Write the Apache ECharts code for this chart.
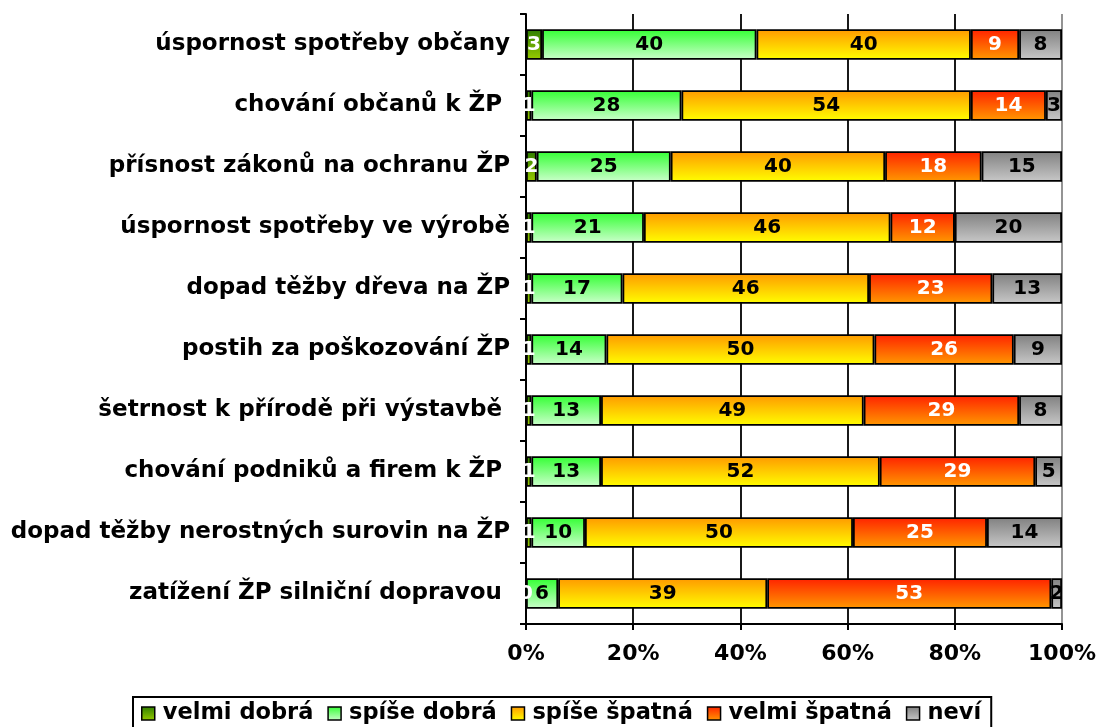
<!DOCTYPE html>
<html>
<head>
<meta charset="utf-8">
<script src="https://cdn.jsdelivr.net/npm/echarts@6/dist/echarts.min.js"></script>
<style>
  html, body { margin: 0; padding: 0; background: #fff; }
  #chart { width: 1101px; height: 727px; }
</style>
</head>
<body>
<div id="chart"></div>
<script>
// kategorie odshora dolů
const categories = [
  'úspornost spotřeby občany',
  'chování občanů k ŽP ',
  'přísnost zákonů na ochranu ŽP',
  'úspornost spotřeby ve výrobě',
  'dopad těžby dřeva na ŽP',
  'postih za poškozování ŽP',
  'šetrnost k přírodě při výstavbě ',
  'chování podniků a firem k ŽP ',
  'dopad těžby nerostných surovin na ŽP',
  'zatížení ŽP silniční dopravou '
]

const velmiDobra = [3, 1, 2, 1, 1, 1, 1, 1, 1, 0]
const spiseDobra = [40, 28, 25, 21, 17, 14, 13, 13, 10, 6]
const spiseSpatna = [40, 54, 40, 46, 46, 50, 49, 52, 50, 39]
const velmiSpatna = [9, 14, 18, 12, 23, 26, 29, 29, 25, 53]
const nevi = [8, 3, 15, 20, 13, 9, 8, 5, 14, 2]

const xTicks = [0, 20, 40, 60, 80, 100]

const FONT = '"DejaVu Sans", Verdana, sans-serif'

//přechod shora dolů
const grad = (top, bottom) => new echarts.graphic.LinearGradient(0, 0, 0, 1, [
  { offset: 0, color: top },
  { offset: 1, color: bottom }
])

const mkSeries = (name, data, top, bottom, labelColor) => ({
  name: name,
  type: 'bar',
  stack: 'total',
  barWidth: '50%',
  data: data,
  itemStyle: {
    color: grad(top, bottom),
    borderColor: '#000',
    borderWidth: 1.8
  },
  label: {
    show: true,
    position: 'inside',
    color: labelColor,
    fontFamily: FONT,
    fontWeight: 'bold',
    fontSize: 20
  }
})

const chart = echarts.init(document.getElementById('chart'))

chart.setOption({
  animation: false,
  textStyle: { fontFamily: FONT },
  grid: {
    left: 526,
    right: 39,
    top: 14,
    bottom: 103,
    containLabel: false
  },
  legend: {
    left: 133,
    top: 697,
    padding: [5, 10, 12, 8],
    itemGap: 14,
    itemWidth: 13,
    itemHeight: 13,
    icon: 'rect',
    borderColor: '#000',
    borderWidth: 2,
    borderRadius: 0,
    textStyle: {
      color: '#000',
      fontFamily: FONT,
      fontWeight: 'bold',
      fontSize: 22.5,
      padding: [0, 0, 0, 3]
    },
    itemStyle: { borderColor: '#000', borderWidth: 1.5 }
  },
  xAxis: {
    type: 'value',
    min: xTicks[0],
    max: xTicks[xTicks.length - 1],
    interval: 20,
    axisLine: { show: true, lineStyle: { color: '#000', width: 2 } },
    axisTick: { show: true, length: 6, lineStyle: { color: '#000', width: 2 } },
    axisLabel: {
      color: '#000',
      fontFamily: FONT,
      fontWeight: 'bold',
      fontSize: 22,
      margin: 19,
      formatter: '{value}%'
    },
    splitLine: {
      show: true,
      lineStyle: { color: ['#000', '#000', '#000', '#000', '#000', '#888'], width: 1.8 }
    }
  },
  yAxis: {
    type: 'category',
    inverse: true,
    data: categories,
    axisLine: { show: true, lineStyle: { color: '#000', width: 2 } },
    axisTick: { show: true, length: 6, lineStyle: { color: '#000', width: 2 } },
    axisLabel: {
      color: '#000',
      fontFamily: FONT,
      fontWeight: 'bold',
      fontSize: 23,
      margin: 16
    }
  },
  series: [
    mkSeries('velmi dobrá', velmiDobra, '#2e7d00', '#99cc00', '#fff'),
    mkSeries('spíše dobrá', spiseDobra, '#33ff33', '#ccffcc', '#000'),
    mkSeries('spíše špatná', spiseSpatna, '#ff9900', '#ffff00', '#000'),
    mkSeries('velmi špatná', velmiSpatna, '#ff2200', '#ff9900', '#fff'),
    mkSeries('neví', nevi, '#808080', '#c8c8c8', '#000')
  ]
})
</script>
</body>
</html>
